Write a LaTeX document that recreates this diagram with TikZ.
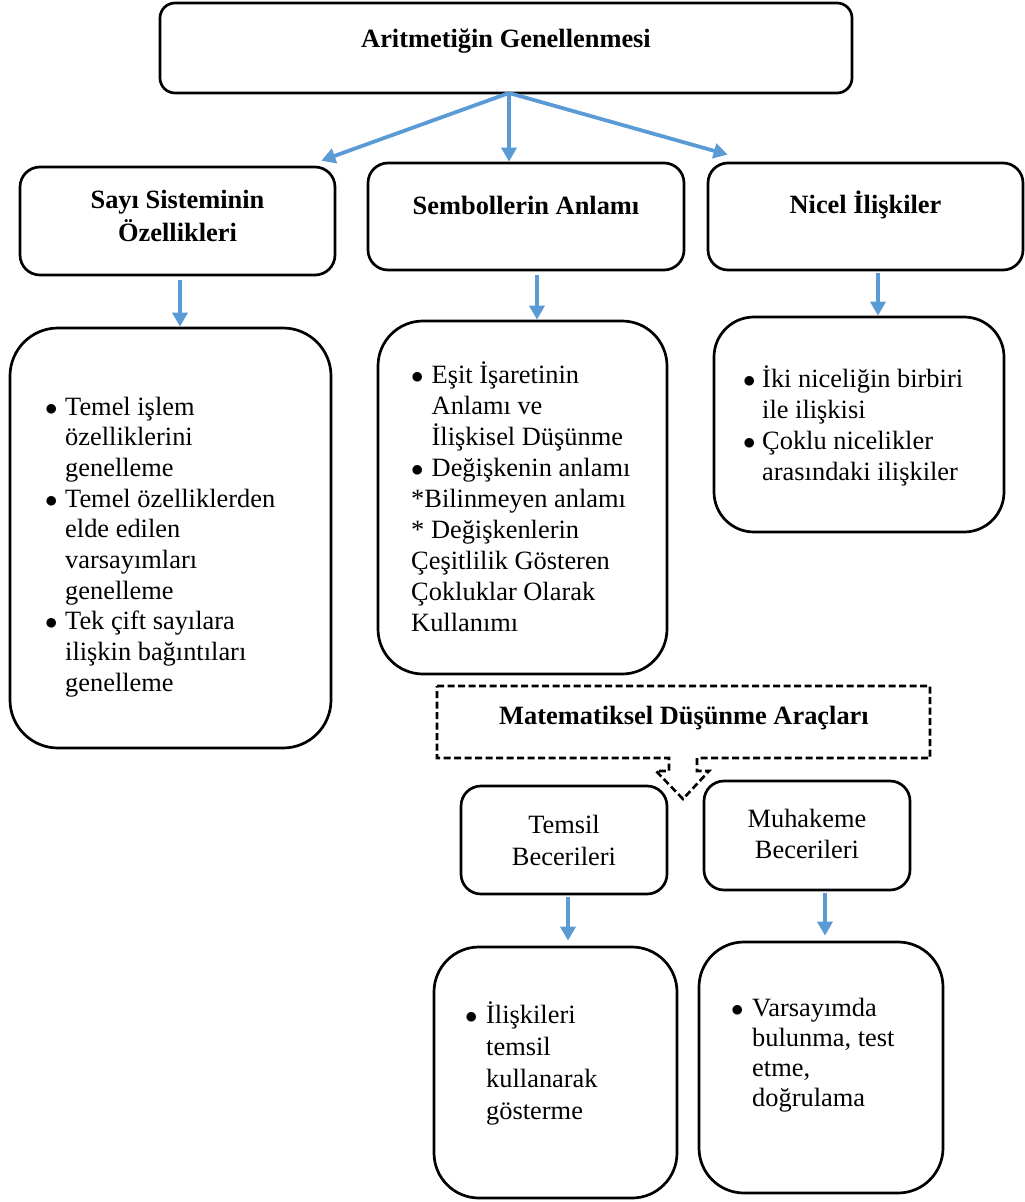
\documentclass[tikz,border=0pt]{standalone}
\usepackage{fontspec}
\setmainfont{Liberation Serif}
\usetikzlibrary{arrows.meta}

\definecolor{azulFlecha}{RGB}{91,155,213}
\newcommand{\linea}[1]{\multicolumn{2}{@{}l@{}}{#1}}
\newcommand{\punto}{$\bullet$}

\tikzset{
    caja/.style={draw, line width=2.7pt, rounded corners=#1, inner sep=0pt},
    titulo/.style={inner sep=0pt, anchor=base, font=\bfseries\fontsize{26.4}{33}\selectfont},
    rotulo/.style={inner sep=0pt, anchor=base, font=\fontsize{26.4}{31.5}\selectfont},
    lista/.style={inner sep=0pt, anchor=base west, font=\fontsize{26.4}{31}\selectfont},
    flecha/.style={azulFlecha, line width=3.8pt, -{Triangle[length=14pt,width=15pt]}},
    punteada/.style={line width=2.6pt, dash pattern=on 7pt off 3.5pt}
}

\begin{document}
\begin{tikzpicture}[x=1pt, y=-1pt]
    % Marco fijo de la figura
    \useasboundingbox (0,0) rectangle (1025,1202);

    % Caja principal
    \node[caja=15pt, minimum width=692pt, minimum height=90pt] (genel) at (506,48) {};
    \node[titulo] (genelTxt) at (506,47) {Aritmetiğin Genellenmesi};

    % Segundo nivel
    \node[caja=20pt, minimum width=315pt, minimum height=108pt] (sayi) at (177.5,221) {};
    \node[titulo] (sayiTxt) at (177.5,208) {\begin{tabular}[t]{@{}c@{}}Sayı Sisteminin\\Özellikleri\end{tabular}};

    \node[caja=20pt, minimum width=316pt, minimum height=107pt] (sembol) at (526,216.5) {};
    \node[titulo] (sembolTxt) at (526,214) {Sembollerin Anlamı};

    \node[caja=20pt, minimum width=315pt, minimum height=107pt] (nicel) at (865.5,216.5) {};
    \node[titulo] (nicelTxt) at (865.5,213) {Nicel İlişkiler};

    % Listas
    \node[caja=48pt, minimum width=321pt, minimum height=420pt] (sayiList) at (170.5,538) {};
    \node[lista, font=\fontsize{26.4}{30.7}\selectfont] (sayiLst) at (45,415) {\begin{tabular}[t]{@{}p{20pt}@{}l@{}}
        \punto & Temel işlem\\
               & özelliklerini\\
               & genelleme\\
        \punto & Temel özelliklerden\\
               & elde edilen\\
               & varsayımları\\
               & genelleme\\
        \punto & Tek çift sayılara\\
               & ilişkin bağıntıları\\
               & genelleme
    \end{tabular}};

    \node[caja=45pt, minimum width=289pt, minimum height=353pt] (sembolList) at (522.5,497.5) {};
    \node[lista] (sembolLst) at (411,383) {\begin{tabular}[t]{@{}p{20.5pt}@{}l@{}}
        \punto & Eşit İşaretinin\\
               & Anlamı ve\\
               & İlişkisel Düşünme\\
        \punto & Değişkenin anlamı\\
        \linea{*Bilinmeyen anlamı}\\
        \linea{* Değişkenlerin}\\
        \linea{Çeşitlilik Gösteren}\\
        \linea{Çokluklar Olarak}\\
        \linea{Kullanımı}
    \end{tabular}};

    \node[caja=40pt, minimum width=290pt, minimum height=215pt] (nicelList) at (859,424.5) {};
    \node[lista] (nicelLst) at (743,387) {\begin{tabular}[t]{@{}p{19pt}@{}l@{}}
        \punto & İki niceliğin birbiri\\
               & ile ilişkisi\\
        \punto & Çoklu nicelikler\\
               & arasındaki ilişkiler
    \end{tabular}};

    % Herramientas
    \node[titulo] (matTxt) at (684,724) {Matematiksel Düşünme Araçları};
    \draw[punteada] (437,686) -- (930,686) -- (930,758) -- (697,758) -- (697,771) -- (709,771)
        -- (683,799) -- (656,771) -- (669,771) -- (669,758) -- (437,758) -- cycle;

    \node[caja=20pt, minimum width=206pt, minimum height=108pt] (temsil) at (564,840) {};
    \node[rotulo] (temsilTxt) at (564,833.5) {\begin{tabular}[t]{@{}c@{}}Temsil\\Becerileri\end{tabular}};

    \node[caja=20pt, minimum width=206pt, minimum height=109pt] (muhakeme) at (807,835.5) {};
    \node[rotulo] (muhakemeTxt) at (807,827) {\begin{tabular}[t]{@{}c@{}}Muhakeme\\Becerileri\end{tabular}};

    \node[caja=45pt, minimum width=243pt, minimum height=251pt] (temsilList) at (555.5,1072.5) {};
    \node[lista, font=\fontsize{26.4}{32.3}\selectfont] (temsilLst) at (465,1023) {\begin{tabular}[t]{@{}p{21pt}@{}l@{}}
        \punto & İlişkileri\\
               & temsil\\
               & kullanarak\\
               & gösterme
    \end{tabular}};

    \node[caja=45pt, minimum width=244pt, minimum height=251pt] (muhakemeList) at (821,1067.5) {};
    \node[lista, font=\fontsize{26.4}{30.3}\selectfont] (muhakemeLst) at (731,1016) {\begin{tabular}[t]{@{}p{21pt}@{}l@{}}
        \punto & Varsayımda\\
               & bulunma, test\\
               & etme,\\
               & doğrulama
    \end{tabular}};

    % Flechas
    \coordinate (fork) at (509,93);
    \draw[flecha] (fork) -- ([shift={(-15,-5)}]sayi.north east);
    \draw[flecha] (fork) -- (fork |- sembol.north);
    \draw[flecha] (fork) -- ([shift={(21,-7)}]nicel.north west);

    \draw[flecha] ([shift={(2.5,4)}]sayi.south) -- ([xshift=2.5pt]sayi.south |- sayiList.north);
    \draw[flecha] ([shift={(11,4)}]sembol.south) -- ([xshift=11pt]sembol.south |- sembolList.north);
    \draw[flecha] ([shift={(12.5,2)}]nicel.south) -- ([xshift=12.5pt]nicel.south |- nicelList.north);
    \draw[flecha, shorten >=5pt] ([shift={(4,2)}]temsil.south) -- ([xshift=4pt]temsil.south |- temsilList.north);
    \draw[flecha, shorten >=5pt] ([shift={(18,2)}]muhakeme.south) -- ([xshift=18pt]muhakeme.south |- muhakemeList.north);
\end{tikzpicture}
\end{document}
